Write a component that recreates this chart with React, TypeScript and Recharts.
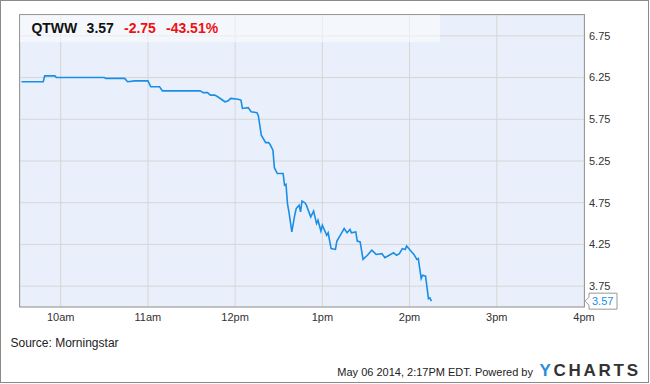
import { CartesianGrid, Line, LineChart, ReferenceLine, XAxis, YAxis } from 'recharts';

const symbol = 'QTWW';
const lastPrice = '3.57';
const change = '-2.75';
const changePct = '-43.51%';

const times = [
  '9:33', '9:48', '9:49', '9:56', '9:57', '10:30', '10:31', '10:44', '10:46', '10:51',
  '11:00', '11:02', '11:08', '11:10', '11:36', '11:38', '11:41', '11:43', '11:46', '11:48',
  '11:53', '11:55', '11:57', '12:02', '12:04', '12:05', '12:09', '12:11', '12:15', '12:16',
  '12:18', '12:21', '12:23', '12:24', '12:26', '12:27', '12:29', '12:33', '12:34', '12:35',
  '12:36', '12:37', '12:39', '12:41', '12:42', '12:44', '12:45', '12:46', '12:48', '12:49',
  '12:52', '12:54', '12:56', '12:57', '12:59', '13:00', '13:03', '13:04', '13:06', '13:09',
  '13:10', '13:13', '13:15', '13:17', '13:19', '13:20', '13:23', '13:24', '13:26', '13:28',
  '13:31', '13:34', '13:37', '13:41', '13:43', '13:46', '13:49', '13:51', '13:53', '13:55',
  '13:57', '13:58', '14:00', '14:03', '14:05', '14:06', '14:08', '14:09', '14:11', '14:13',
  '14:14', '14:15',
];

const prices = [
  6.2, 6.2, 6.27, 6.27, 6.25, 6.25, 6.24, 6.24, 6.2, 6.21,
  6.21, 6.14, 6.14, 6.09, 6.09, 6.07, 6.07, 6.04, 6.04, 6.02,
  5.96, 5.97, 6.0, 5.99, 5.98, 5.88, 5.89, 5.84, 5.83, 5.79,
  5.56, 5.47, 5.47, 5.45, 5.38, 5.17, 5.1, 5.1, 4.96, 4.97,
  4.74, 4.64, 4.4, 4.6, 4.68, 4.72, 4.64, 4.77, 4.75, 4.72,
  4.58, 4.65, 4.5, 4.54, 4.41, 4.48, 4.36, 4.39, 4.2, 4.19,
  4.29, 4.38, 4.44, 4.39, 4.43, 4.39, 4.4, 4.29, 4.28, 4.07,
  4.12, 4.18, 4.13, 4.14, 4.09, 4.12, 4.15, 4.12, 4.14, 4.2,
  4.19, 4.23, 4.19, 4.13, 4.07, 4.08, 3.84, 3.88, 3.87, 3.6,
  3.61, 3.57,
];

const hourTicks = [600, 660, 720, 780, 840, 900, 960];
const hourLabels = ['10am', '11am', '12pm', '1pm', '2pm', '3pm', '4pm'];
const priceTicks = [3.75, 4.25, 4.75, 5.25, 5.75, 6.25, 6.75];

const toMinutes = (t: string) => {
  const [h, m] = t.split(':').map(Number);
  return h * 60 + m;
};

const data = times.map((t, i) => ({ t: toMinutes(t), price: prices[i] }));
const lastValue = prices[prices.length - 1];

const FONT = '"Liberation Sans", Arial, sans-serif';

const LastLabel = (props: any) => {
  const vb = props.viewBox || {};
  const right = vb.x + vb.width;
  const y = vb.y;
  return (
    <g>
      <path
        d={`M${right + 5},${y - 8} L${right + 33},${y - 8} L${right + 33},${y + 8} L${right + 5},${y + 8} L${right + 5},${y + 4} L${right + 1},${y} L${right + 5},${y - 4} Z`}
        fill='#fff'
        stroke='#999'
        strokeWidth={1}
      />
      <text x={right + 8} y={y + 4} fill='#1a8ee6' fontSize={11} fontFamily={FONT}>
        {lastValue.toFixed(2)}
      </text>
    </g>
  );
};

const App = () => {
  return (
    <div style={{ position: 'relative', width: 650, height: 384, background: '#fff', fontFamily: FONT }}>
      <style>{'body{margin:0}'}</style>
      <LineChart width={650} height={384} data={data} margin={{ top: 15, right: 0, bottom: 57, left: 20 }}>
        <CartesianGrid stroke='#d6d6d6' fill='#e9f0fb' fillOpacity={1} />
        <XAxis
          dataKey='t'
          type='number'
          domain={[572, 960]}
          ticks={hourTicks}
          tickFormatter={(v: number) => hourLabels[hourTicks.indexOf(v)]}
          axisLine={false}
          tickLine={false}
          tickSize={0}
          tickMargin={6}
          height={20}
          interval={0}
          tick={{ fill: '#333', fontSize: 11, fontFamily: FONT }}
        />
        <YAxis
          orientation='right'
          type='number'
          domain={[3.5, 7.0]}
          ticks={priceTicks}
          tickFormatter={(v: number) => v.toFixed(2)}
          axisLine={false}
          tickLine={false}
          tickSize={0}
          tickMargin={5}
          width={66}
          interval={0}
          tick={{ fill: '#333', fontSize: 11, fontFamily: FONT }}
        />
        <Line
          dataKey='price'
          type='linear'
          stroke='#1a8ee6'
          strokeWidth={1.6}
          dot={false}
          activeDot={false}
          isAnimationActive={false}
        />
        <ReferenceLine y={lastValue} stroke='none' label={<LastLabel />} ifOverflow='visible' />
      </LineChart>
      <svg
        width={650}
        height={384}
        style={{ position: 'absolute', left: 0, top: 0, pointerEvents: 'none' }}
        fontFamily={FONT}
      >
        <rect x={0.5} y={0.5} width={648} height={382} fill='none' stroke='#8a8a8a' />
        <rect x={19.5} y={14.5} width={565} height={292.5} fill='none' stroke='#999' />
        <rect x={20} y={15} width={420} height={27} fill='#fff' fillOpacity={0.5} />
        <text y={33.3} fontSize={14} fontWeight='bold'>
          <tspan x={31.4} fill='#111'>{symbol}</tspan>
          <tspan x={86.6} fill='#111'>{lastPrice}</tspan>
          <tspan x={124} fill='#ee1111'>{change}</tspan>
          <tspan x={166} fill='#ee1111'>{changePct}</tspan>
        </text>
        <text x={10.5} y={346.5} fontSize={12} fill='#222'>Source: Morningstar</text>
        <text x={533} y={376} fontSize={11} fill='#222' textAnchor='end'>
          May 06 2014, 2:17PM EDT. Powered by
        </text>
        <text x={539.5} y={376} fontSize={17} fontWeight='bold' textLength={98.5} lengthAdjust='spacing'>
          <tspan fill='#2b8ddb'>Y</tspan>
          <tspan fill='#333'>CHARTS</tspan>
        </text>
      </svg>
    </div>
  );
};

export default App;
